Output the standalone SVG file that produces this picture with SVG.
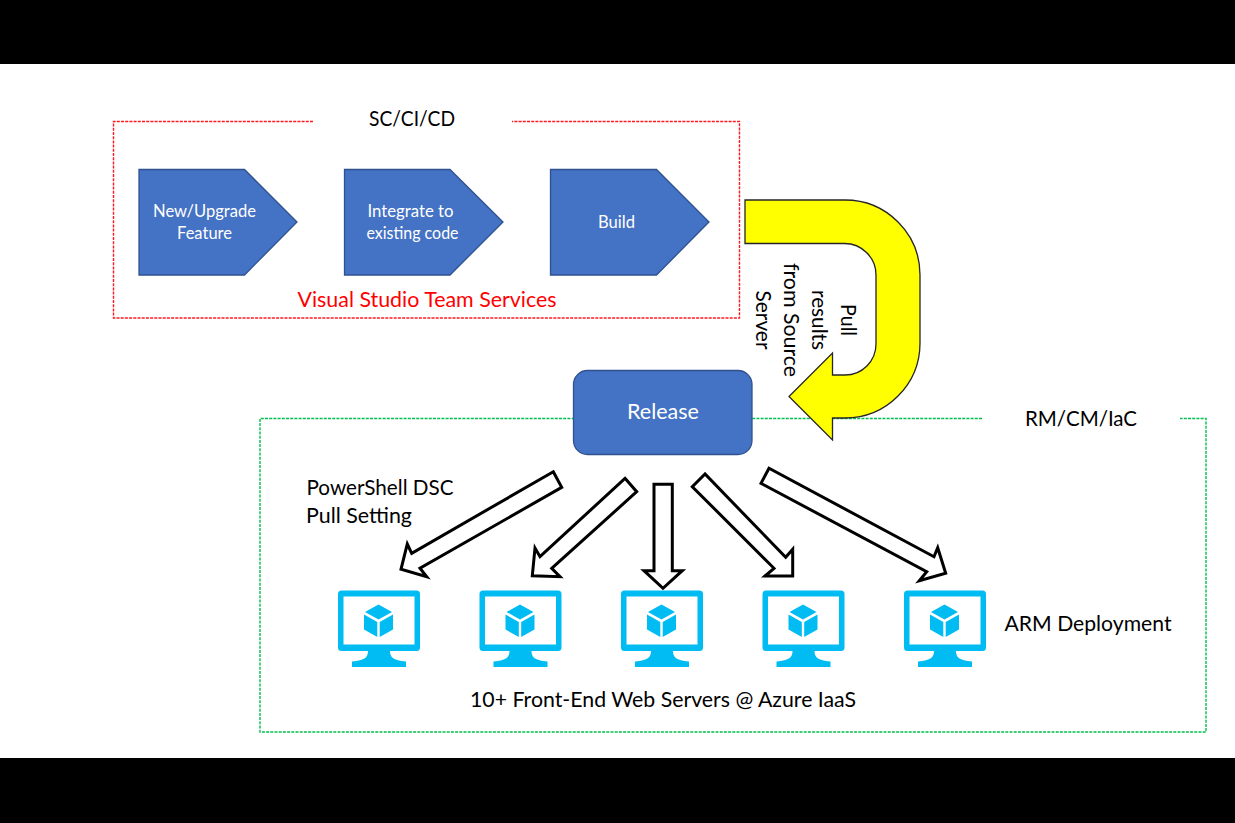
<svg xmlns="http://www.w3.org/2000/svg" xmlns:xlink="http://www.w3.org/1999/xlink" width="1235" height="823" viewBox="0 0 1235 823">
<style>
text{font-family:Lato,"Open Sans","Liberation Sans",sans-serif;fill:#000;text-anchor:middle}
.step{fill:#4472c4;stroke:#2f528f;stroke-width:1.3}
.blk{fill:#fff;stroke:#000;stroke-width:3;stroke-linejoin:miter}
.s17{font-size:17.5px}.s20{font-size:21.5px}
.mon{fill:#00bcf2}
</style>
<defs>
<g id="vm">
<path class="mon" fill-rule="evenodd" d="M-37.5 -31.5H37.5a3.5 3.5 0 0 1 3.5 3.5V25.5a3.5 3.5 0 0 1-3.5 3.5H11C11 35 14 38.5 27 39.5V45H-27V39.5C-14 38.5-11 35-11 29H-37.5a3.5 3.5 0 0 1-3.5-3.5V-28a3.5 3.5 0 0 1 3.5-3.5ZM-35.5 -25.5V22.5H35.5V-25.5Z"/>
<path class="mon" d="M-0.500 -17.500L13 -10L-0.500 -2.500L-14 -10Z"/>
<path class="mon" d="M-15 -7.500L-1.700 0V15L-15 7.500Z"/>
<path class="mon" d="M14 -7.500L0.700 0V15L14 7.500Z"/>
</g>
</defs>
<rect width="1235" height="823" fill="#fff"/>
<rect id="bar-top" x="0" y="0" width="1235" height="64" fill="#000"/>
<rect id="bar-bottom" x="0" y="758" width="1235" height="65" fill="#000"/>

<g id="sc-ci-cd-frame">
<path d="M313 121.500H113.500V318H739.500V121.500H512" fill="none" stroke="#ff1a22" stroke-width="1.400" stroke-dasharray="3 1.200"/>
<text x="412" y="126" class="s20" textLength="86" lengthAdjust="spacingAndGlyphs">SC/CI/CD</text>
<text x="427" y="307" class="s20" style="fill:#f00" textLength="259" lengthAdjust="spacingAndGlyphs">Visual Studio Team Services</text>
</g>
<g id="rm-cm-iac-frame">
<path d="M982 418.500H260V732H1206V418.500H1180" fill="none" stroke="#00c050" stroke-width="1.400" stroke-dasharray="3 1.200"/>
<text x="1081" y="426" class="s20" textLength="112" lengthAdjust="spacingAndGlyphs">RM/CM/IaC</text>
</g>

<g id="new-upgrade-feature">
<path class="step" d="M139 169.500H244.500L297 222L244.500 275H139Z"/>
<text x="204.500" y="217" class="s17" style="fill:#fff" textLength="103" lengthAdjust="spacingAndGlyphs">New/Upgrade</text>
<text x="204.500" y="239" class="s17" style="fill:#fff" textLength="55" lengthAdjust="spacingAndGlyphs">Feature</text>
</g>
<g id="integrate">
<path class="step" d="M344.500 169.500H450L503 222L450 275H344.500Z"/>
<text x="410.500" y="217" class="s17" style="fill:#fff" textLength="86" lengthAdjust="spacingAndGlyphs">Integrate to</text>
<text x="412.500" y="239" class="s17" style="fill:#fff" textLength="92" lengthAdjust="spacingAndGlyphs">existing code</text>
</g>
<g id="build">
<path class="step" d="M550.500 169.500H656.500L709 222L656.500 275H550.500Z"/>
<text x="616.500" y="228" class="s17" style="fill:#fff" textLength="37" lengthAdjust="spacingAndGlyphs">Build</text>
</g>
<g id="release">
<rect x="573.500" y="370.500" width="178.500" height="84" rx="14" fill="#4472c4" stroke="#2f528f" stroke-width="1.300"/>
<text x="663" y="419" style="fill:#fff;font-size:21px" textLength="72" lengthAdjust="spacingAndGlyphs">Release</text>
</g>

<g id="connectors">
<path id="pull-arrow" d="M745 200H845A75 75 0 0 1 920 275V343A75 75 0 0 1 845 418H832.500V440L789 396.500L832.500 353V375H845A31 31 0 0 0 876 344V275A31.500 31.500 0 0 0 844.500 243.500H745Z" fill="#ff0" stroke="#262626" stroke-width="1.300"/>
<polygon class="blk" points="553.300,471.700 561.700,487.300 420,568.300 426.700,576.700 401,569.300 407.300,544 411.700,553.300"/>
<polygon class="blk" points="625,478.300 636.700,491.700 551.700,568.300 560,576.700 532.300,575.700 535,548 540,556.700"/>
<polygon class="blk" points="654,484.300 672.300,484.300 672.300,570.700 682.300,570.700 663,588.300 644,570.700 654,570.700"/>
<polygon class="blk" points="705,474 692.300,486.700 774,568.300 765,576 792.700,576 792.700,549.300 785.700,557.300"/>
<polygon class="blk" points="769,468.300 761,483.300 926.700,571.700 919.300,580.700 945.700,573.300 937.700,547.700 934,556.700"/>
</g>

<g id="pull-label">
<text transform="translate(847 320) rotate(90)" y="6" class="s20" textLength="32" lengthAdjust="spacingAndGlyphs">Pull</text>
<text transform="translate(818 320) rotate(90)" y="6" class="s20" textLength="60" lengthAdjust="spacingAndGlyphs">results</text>
<text transform="translate(790 320) rotate(90)" y="6" class="s20" textLength="114" lengthAdjust="spacingAndGlyphs">from Source</text>
<text transform="translate(762 320) rotate(90)" y="6" class="s20" textLength="59" lengthAdjust="spacingAndGlyphs">Server</text>
</g>

<g id="dsc-label">
<text x="380" y="495" class="s20" textLength="147" lengthAdjust="spacingAndGlyphs">PowerShell DSC</text>
<text x="359" y="523" class="s20" textLength="106" lengthAdjust="spacingAndGlyphs">Pull Setting</text>
</g>

<g id="vm-1"><use href="#vm" x="379" y="622"/></g>
<g id="vm-2"><use href="#vm" x="520.500" y="622"/></g>
<g id="vm-3"><use href="#vm" x="662" y="622"/></g>
<g id="vm-4"><use href="#vm" x="803.500" y="622"/></g>
<g id="vm-5"><use href="#vm" x="945" y="622"/></g>

<text id="arm-label" x="1088" y="631" class="s20" textLength="167" lengthAdjust="spacingAndGlyphs">ARM Deployment</text>
<text id="servers-label" x="663" y="707" class="s20" textLength="386" lengthAdjust="spacingAndGlyphs">10+ Front-End Web Servers @ Azure IaaS</text>
</svg>
